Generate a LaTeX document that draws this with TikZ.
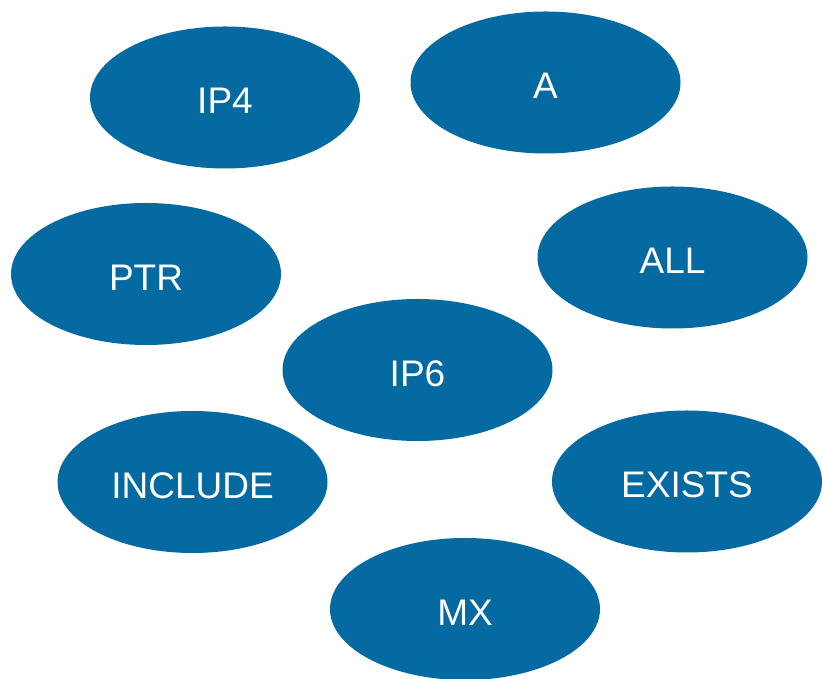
\documentclass[tikz,border=0pt]{standalone}
\usepackage{fontspec}
\setmainfont{Liberation Sans}
\usetikzlibrary{shapes.geometric}
\definecolor{ovalblue}{RGB}{4,106,161}
\tikzset{
  oval/.style={ellipse, fill=ovalblue, draw=none, minimum width=270pt, minimum height=142pt, inner sep=0pt},
  lbl/.style={text=white, font=\fontsize{37}{44}\selectfont, inner sep=0pt}
}
\begin{document}
\begin{tikzpicture}[x=1pt,y=1pt]
\useasboundingbox (0,0) rectangle (822,679);
\node[oval] (ip4) at (225,581.5) {};
\node[oval] (a) at (545.5,596.5) {};
\node[oval] (ptr) at (146,405) {};
\node[oval] (all) at (672.5,421.5) {};
\node[oval] (ip6) at (417.5,309) {};
\node[oval] (include) at (192.5,197) {};
\node[oval] (exists) at (687,197.5) {};
\node[oval] (mx) at (465,70) {};
\node[lbl] (ip4t) at ([yshift=-3.5pt]ip4.center) {IP4};
\node[lbl] (at) at ([yshift=-3.5pt]a.center) {A};
\node[lbl] (ptrt) at ([yshift=-3.5pt]ptr.center) {PTR};
\node[lbl] (allt) at ([yshift=-3.5pt]all.center) {ALL};
\node[lbl] (ip6t) at ([yshift=-3.5pt]ip6.center) {IP6};
\node[lbl] (includet) at ([yshift=-3.5pt]include.center) {INCLUDE};
\node[lbl] (existst) at ([yshift=-3.5pt]exists.center) {EXISTS};
\node[lbl] (mxt) at ([yshift=-3.5pt]mx.center) {MX};
\end{tikzpicture}
\end{document}
